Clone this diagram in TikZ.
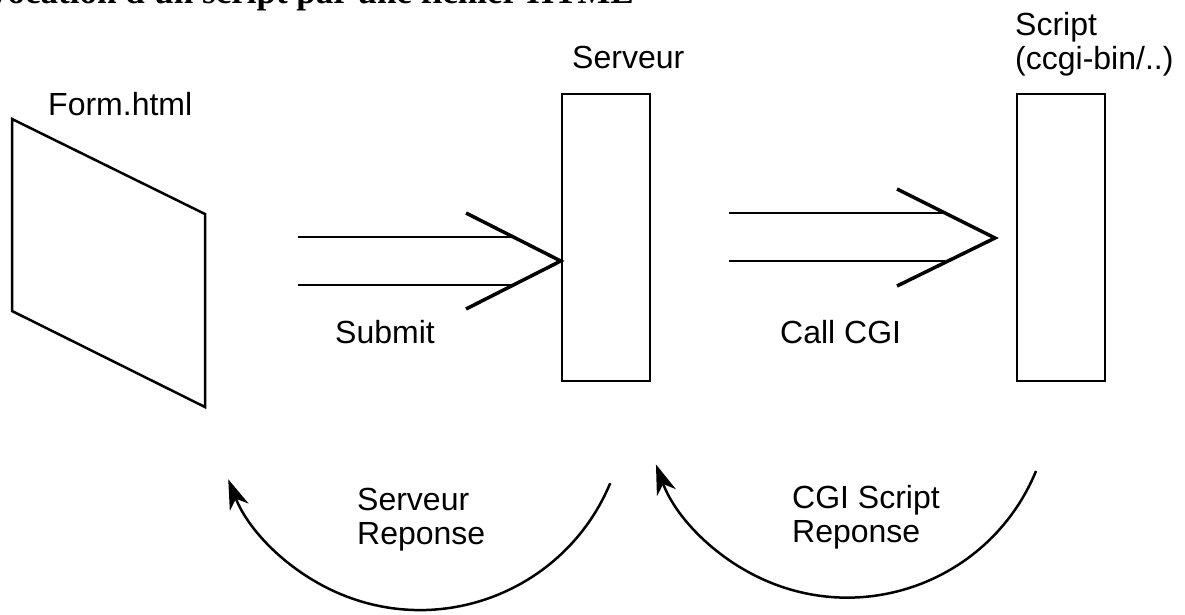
\documentclass[tikz,border=0pt]{standalone}
\usepackage{fontspec}
\setmainfont{Liberation Sans}
\newfontfamily\titlefont{Liberation Serif}
\usetikzlibrary{arrows.meta}
\tikzset{
  lbl/.style={font=\fontsize{32}{34}\selectfont, inner sep=0pt, align=left},
  ttl/.style={font=\titlefont\bfseries\fontsize{35}{38}\selectfont, inner sep=0pt},
  boxnode/.style={draw, line width=2.5pt, minimum width=88pt, minimum height=287pt, inner sep=0pt},
  pageshape/.style={line width=2.5pt, line join=miter},
  shaft/.style={line width=2.5pt},
  chev/.style={line width=3.5pt, line join=miter},
  ret/.style={line width=2.5pt, -{Stealth[length=30pt,width=20pt,inset=9pt]}}
}
\begin{document}
\begin{tikzpicture}[x=1pt,y=1pt]
\useasboundingbox (0,0) rectangle (1185,-614);
% title (clipped by page edge)
\node[ttl, anchor=base east] (title) at (634,-3) {Invocation d'un script par une fichier HTML};
% Form.html page
\coordinate (f1) at (12,-119);
\coordinate (f2) at (205,-214);
\coordinate (f3) at (205,-407);
\coordinate (f4) at (12,-311);
\draw[pageshape] (f1) -- (f2) -- (f3) -- (f4) -- cycle;
\node[lbl, anchor=base west] (formlbl) at (48,-115) {Form.html};
% boxes
\node[boxnode] (srv) at (606,-237.5) {};
\node[boxnode] (scr) at (1061,-237.5) {};
\node[lbl, anchor=base west] (srvlbl) at (572,-68) {Serveur};
\node[lbl, anchor=north west] (scrlbl) at (1015,-12) {Script\\(ccgi-bin/..)};
% Submit arrow
\coordinate (s1) at (298,-237);
\coordinate (s2) at (298,-285);
\coordinate (stip) at (srv.west |- 0,-261);
\draw[shaft] (s1) -- (513,-237);
\draw[shaft] (s2) -- (513,-285);
\draw[chev] (466,-213) -- (stip) -- (466,-309);
\node[lbl, anchor=base west] (submit) at (335,-343) {Submit};
% Call CGI arrow
\coordinate (c1) at (729,-213);
\coordinate (c2) at (729,-261);
\coordinate (ctip) at (995,-238);
\draw[shaft] (c1) -- (945,-213);
\draw[shaft] (c2) -- (945,-261);
\draw[chev] (897,-189) -- (ctip) -- (897,-286);
\node[lbl, anchor=base west] (callcgi) at (780,-343) {Call CGI};
% return arcs
\coordinate (r1) at (610.2,-483.2);
\draw[ret] (r1) arc[start angle=-22.6, end angle=-158.6, radius=206];
\node[lbl, anchor=north west] (srvrep) at (357,-488) {Serveur\\Reponse};
\coordinate (r2) at (1036,-471);
\draw[ret] (r2) arc[start angle=-22.3, end angle=-159.7, radius=204];
\node[lbl, anchor=north west] (cgirep) at (792,-485) {CGI Script\\Reponse};
\end{tikzpicture}
\end{document}
